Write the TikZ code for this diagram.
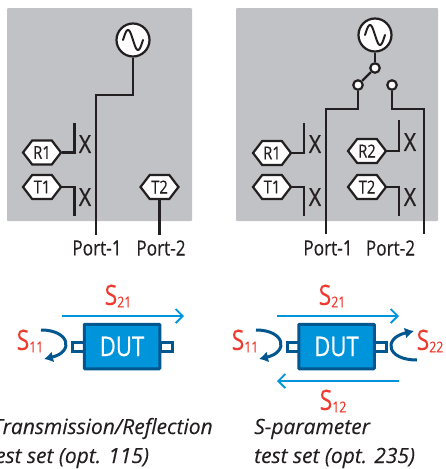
\documentclass[tikz,border=0pt]{standalone}
\usepackage{fontspec}
\setmainfont{Open Sans}
\newfontfamily\narrowsf[FakeStretch=0.82,FakeBold=0.25]{Open Sans}
\newfontfamily\xsf[FakeStretch=0.85,FakeBold=0.6]{Open Sans}
\newfontfamily\capsf[FakeStretch=1.0,FakeBold=0.15]{Open Sans}
\usetikzlibrary{shapes.symbols,arrows.meta,calc}
\definecolor{panel}{HTML}{C1C2C6}
\definecolor{ink}{HTML}{231F20}
\definecolor{dutblue}{HTML}{0095DA}
\definecolor{dutdark}{HTML}{00568F}
\definecolor{sred}{HTML}{EE3A2E}
\tikzset{
  panelbox/.style={fill=panel,rounded corners=1pt},
  wire/.style={draw=ink,line width=2.2pt,line join=miter},
  hex/.style={draw=ink,fill=white,line width=2.2pt,shape=signal,signal to=west and east,signal pointer angle=105,minimum width=38pt,minimum height=24pt,inner sep=0pt,font=\narrowsf\fontsize{18}{18}\selectfont,text=ink},
  gencircle/.style={circle,draw=ink,fill=white,line width=2.2pt,minimum size=33pt,inner sep=0pt,
    path picture={\draw[shift={(path picture bounding box.center)},ink,line width=2pt,line cap=round] plot[smooth,domain=-10:10,samples=31] (\x,{10*sin(18*\x)});}},
  swdot/.style={circle,draw=ink,fill=white,line width=2.2pt,minimum size=9.5pt,inner sep=0pt},
  xmark/.style={font=\xsf\fontsize{25}{25}\selectfont,text=ink,inner sep=0pt},
  portlabel/.style={font=\narrowsf\fontsize{21}{21}\selectfont,text=ink,inner sep=0pt},
  dutbox/.style={draw=dutdark,fill=dutblue,line width=3pt,rounded corners=0.8pt,minimum width=75.5pt,minimum height=44.5pt,inner sep=0pt,font=\narrowsf\fontsize{27}{27}\selectfont,text=white},
  stub/.style={draw=dutdark,fill=white,line width=3pt,minimum width=12pt,minimum height=9pt,inner sep=0pt},
  thru/.style={draw=dutblue,line width=1.9pt,-{Straight Barb[length=7pt,width=14pt,line width=1.9pt]}},
  refl/.style={draw=dutdark,line width=3pt,-{Latex[length=9pt,width=11pt]}},
  slabel/.style={font=\narrowsf\fontsize{28}{28}\selectfont,text=sred,inner sep=0pt},
  caption/.style={font=\capsf\itshape\fontsize{21}{30}\selectfont,text=ink,inner sep=0pt,anchor=base west},
}
\newcommand{\sname}[2]{S\raisebox{-2.5pt}{\fontsize{15}{15}\selectfont #2}}
\begin{document}
\begin{tikzpicture}[x=1pt,y=-1pt]
\useasboundingbox (0,0) rectangle (446,469);
\clip (0,0) rectangle (446,469);
% --- left panel
\fill[panelbox] (7,8) rectangle (192,221);
\node[gencircle] (gA) at (133,40) {};
\coordinate (pA1) at (96,235);
\coordinate (pA2) at (159.5,235);
\draw[wire] (gA.south) -- (133,95) -- (96,95) -- (pA1);
\node[hex] (rA) at (42,152.5) {R1};
\node[hex] (tA) at (42,187) {T1};
\node[hex] (tB) at (159.5,187) {T2};
\draw[wire] (tB.south) -- (pA2);
\draw[wire] (rA.east) -- (74.5,152.5) -- (74.5,123);
\draw[wire] (tA.east) -- (74.5,187) -- (74.5,216);
\node[xmark] (xA) at (85,144) {X};
\node[xmark] (xB) at (85,197) {X};
\node[portlabel] (lA1) at (97,248) {Port-1};
\node[portlabel] (lA2) at (161,248) {Port-2};
% --- right panel
\fill[panelbox] (236,8) rectangle (438,221);
\node[gencircle] (gB) at (375,35) {};
\node[swdot] (sT) at (375,68) {};
\node[swdot] (sL) at (358,85) {};
\node[swdot] (sR) at (392,85) {};
\draw[wire] (gB) -- (sT);
\draw[wire] (sT) -- (sL);
\coordinate (pB1) at (326,234);
\coordinate (pB2) at (424,234);
\draw[wire] (sL.south) -- (358,109) -- (326,109) -- (pB1);
\draw[wire] (sR.south) -- (392,109) -- (424,109) -- (pB2);
\node[hex] (rC) at (272,153) {R1};
\node[hex] (tC) at (272,187) {T1};
\node[hex] (rD) at (367,151) {R2};
\node[hex] (tD) at (367,187) {T2};
\draw[wire] (rC.east) -- (304,153) -- (304,123);
\draw[wire] (tC.east) -- (304,187) -- (304,216);
\draw[wire] (rD.east) -- (399,151) -- (399,120);
\draw[wire] (tD.east) -- (399,187) -- (399,216);
\node[xmark] (xC) at (315,144) {X};
\node[xmark] (xD) at (315,197) {X};
\node[xmark] (xE) at (410,142) {X};
\node[xmark] (xF) at (410,197) {X};
\node[portlabel] (lB1) at (328,248) {Port-1};
\node[portlabel] (lB2) at (390.5,248) {Port-2};
% --- left DUT
\node[stub] (s1) at (78.5,346.5) {};
\node[stub] (s2) at (166,346.5) {};
\node[dutbox] (dA) at (122,346.5) {DUT};
\coordinate (a1) at (62,316);
\coordinate (a2) at (184,316);
\draw[thru] (a1) -- (a2);
\node[slabel] (l21a) at (118,296) {\sname{S}{21}};
\node[slabel] (l11a) at (30,341) {\sname{S}{11}};
\coordinate (c1) at (41,330);
\coordinate (c2) at (44,359);
\draw[refl] (c1) .. controls (70,330) and (74,352) .. (c2);
% --- right DUT
\node[stub] (s3) at (293,346.5) {};
\node[stub] (s4) at (380.5,346.5) {};
\node[dutbox] (dB) at (336.5,346.5) {DUT};
\coordinate (b1) at (277,316);
\coordinate (b2) at (399,316);
\coordinate (b3) at (399,381);
\coordinate (b4) at (277,381);
\draw[thru] (b1) -- (b2);
\draw[thru] (b3) -- (b4);
\node[slabel] (l21b) at (332,296) {\sname{S}{21}};
\node[slabel] (l12b) at (333,401) {\sname{S}{12}};
\node[slabel] (l11b) at (245,341) {\sname{S}{11}};
\node[slabel] (l22b) at (430,341) {\sname{S}{22}};
\coordinate (d1) at (256,330);
\coordinate (d2) at (259,359);
\draw[refl] (d1) .. controls (285,330) and (289,352) .. (d2);
\coordinate (e1) at (417,360);
\coordinate (e2) at (414,331);
\draw[refl] (e1) .. controls (386,360) and (383,338) .. (e2);
% --- captions
\node[caption] (capA1) at (-8,434) {Transmission/Reflection};
\node[caption] (capA2) at (-12,463) {test set (opt. 115)};
\node[caption] (capB1) at (254,434) {S-parameter};
\node[caption] (capB2) at (254,463) {test set (opt. 235)};
\end{tikzpicture}
\end{document}
